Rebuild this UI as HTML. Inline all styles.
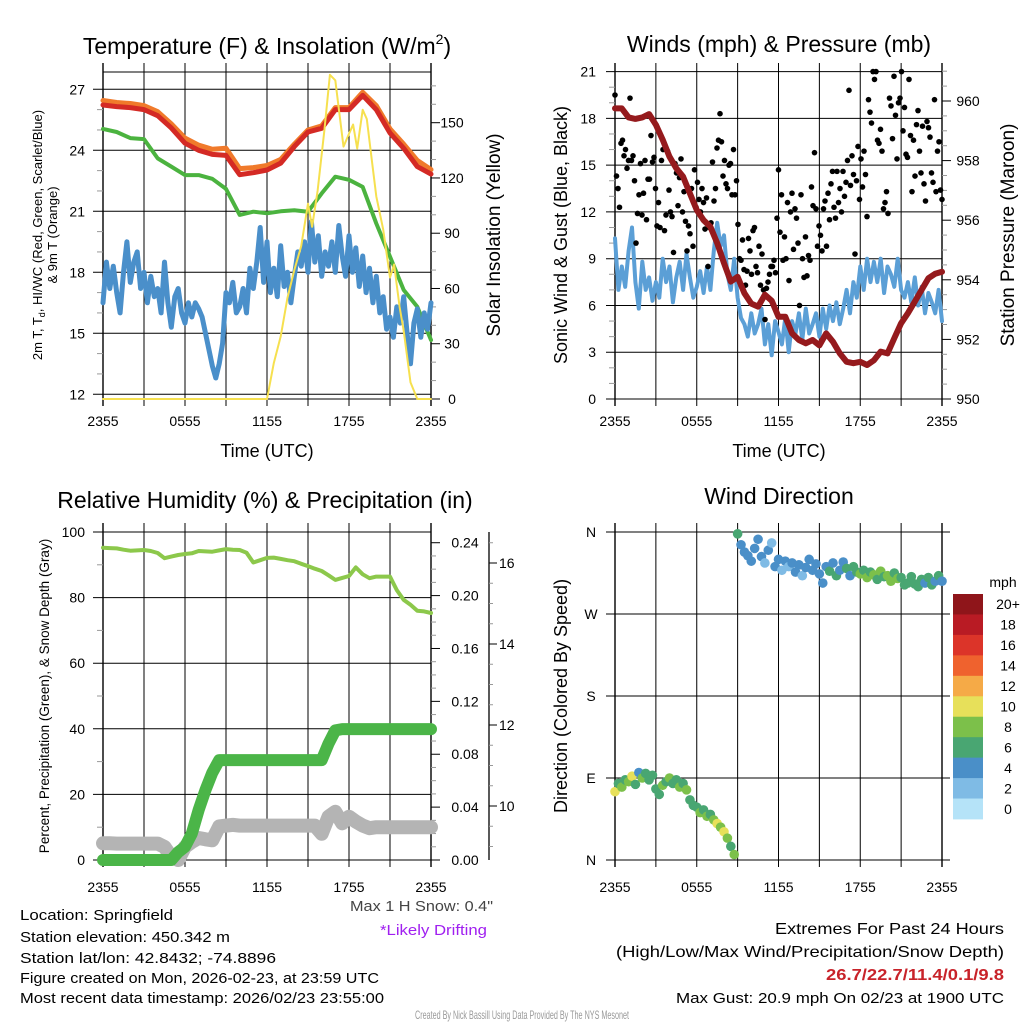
<!DOCTYPE html>
<html><head><meta charset="utf-8"><title>Station Meteogram</title>
<style>
html,body{margin:0;padding:0;background:#fff;}
svg{display:block;font-family:"Liberation Sans",Arial,sans-serif;}
</style></head>
<body>
<svg id="fig" xmlns="http://www.w3.org/2000/svg" width="1024" height="1024" viewBox="0 0 1024 1024">
<rect x="0" y="0" width="1024" height="1024" fill="#fff"/>
<g id="layer"></g>
</svg>
<script>
// ---------------- DATA ----------------
const timeLabels = ["2355","0555","1155","1755","2355"];
const tempRed = [26.23,26.15,26.1,26.0,25.7,25.1,24.35,24.0,23.8,23.75,22.8,22.9,23.03,23.37,24.18,24.9,25.08,26.0,26.0,26.7,26.0,24.85,24.1,23.2,22.83];
const tempOrange = [26.45,26.35,26.3,26.2,25.9,25.3,24.6,24.25,24.05,24.1,23.1,23.15,23.25,23.55,24.3,25.0,25.2,26.1,26.1,26.85,26.2,25.05,24.3,23.5,23.05];
const dewGreen = [25.05,24.9,24.6,24.55,23.6,23.2,22.78,22.78,22.6,22.1,20.82,20.98,20.9,21.0,21.05,20.98,21.88,22.7,22.55,22.2,20.4,18.77,17.13,16.3,14.67];
const windChill = [16.5,18.5,17.2,18.3,17.0,16.0,18.0,19.5,17.5,18.5,19.0,17.2,18.0,16.5,17.8,16.8,17.2,16.0,18.5,16.5,15.3,16.8,17.2,16.0,15.5,16.5,15.8,16.5,16.2,15.8,15.0,14.2,13.4,12.8,13.5,14.5,17.0,16.5,17.5,16.0,16.3,17.2,16.0,18.2,17.2,18.5,20.2,17.5,19.5,17.0,18.2,16.8,19.3,17.3,18.0,16.5,17.8,19.0,18.3,19.5,18.0,20.5,18.5,19.8,17.8,19.0,18.3,19.5,18.0,20.3,18.8,17.8,19.8,18.0,19.2,17.3,18.8,17.0,18.2,16.5,17.8,16.0,16.8,15.2,15.8,14.8,16.3,15.5,16.8,15.0,13.5,15.5,16.2,14.8,16.0,15.2,16.5];
const solarHours = [0,12,12.5,13,13.5,14,14.5,15,15.3,15.7,16.2,16.6,17,17.3,17.6,18,18.3,18.6,19,19.3,19.7,20,20.5,21,21.3,21.7,22,22.5,23,24];
const solarValues = [0,0,19.5,34,55,70,83,106,93.5,113,146,176,173,155,137,144,149,136,157,152,128,110,92,66,73,50,37,9,0,0];
const sonicWind = [10.3,7.0,8.5,7.2,9.5,11.0,7.5,5.8,8.8,7.0,7.8,6.3,7.5,6.5,9.0,7.5,8.5,6.2,7.8,8.8,7.0,9.3,7.8,6.5,7.2,8.2,6.8,8.5,7.0,9.5,11.3,9.8,10.5,8.0,7.0,9.0,6.5,5.2,4.8,4.0,5.5,4.2,4.8,5.8,3.5,4.8,2.8,5.0,4.3,3.5,5.2,3.0,5.0,4.2,5.5,3.8,5.8,4.2,4.8,5.5,4.0,5.8,4.5,6.0,5.0,6.2,4.8,5.8,7.0,5.5,7.5,6.5,8.5,7.0,9.0,7.5,8.8,7.5,9.0,6.8,8.5,8.0,7.2,9.0,7.0,6.5,7.5,6.2,7.8,6.0,7.2,5.5,6.8,6.2,5.5,7.0,5.0];
const gusts = [19.5,14.3,13.5,12.3,16.4,16.6,15.6,16.0,14.8,15.3,19.3,15.3,15.6,14.0,10.0,11.9,13.1,15.1,11.8,13.2,15.3,11.5,14.1,14.1,16.9,15.2,15.5,
13.5,11.1,12.6,11.0,15.3,16.0,10.8,11.8,15.9,13.4,12.0,11.7,9.4,15.1,14.5,12.4,14.2,15.4,12.0,13.3,11.4,9.5,11.1,10.6,13.5,9.8,14.7,
12.3,13.9,12.8,12.0,13.5,12.6,10.9,12.9,8.5,11.0,11.3,15.2,12.7,13.5,16.1,16.6,18.3,16.5,14.3,15.3,13.8,13.5,15.0,15.1,13.1,16.0,13.1,
14.0,11.2,9.0,8.9,10.2,8.3,7.3,8.2,10.3,9.5,8.0,10.8,11.0,8.5,8.1,9.8,7.3,9.3,7.0,5.1,7.1,7.5,8.0,8.5,8.5,8.9,
8.1,11.6,14.7,10.7,13.1,8.9,10.4,9.0,12.6,7.6,12.0,13.2,9.6,12.2,11.6,10.0,6.0,13.1,9.0,7.8,10.4,7.9,9.2,8.9,13.6,12.4,15.8,
12.2,9.8,11.1,10.5,9.5,12.2,12.7,9.8,13.2,11.5,13.8,14.6,12.3,11.6,14.6,12.6,13.5,12.0,14.6,13.0,13.9,15.3,19.8,13.7,15.6,14.4,9.3,
14.0,16.2,12.8,15.4,13.6,15.9,14.4,11.7,19.2,18.4,17.7,21.0,20.5,21.0,16.6,16.4,17.3,15.9,12.2,12.6,13.3,11.9,19.3,18.8,16.7,20.7,18.2,15.4,
19.0,19.3,21.0,17.2,18.7,15.7,15.5,20.5,16.9,13.3,16.6,14.3,17.6,18.5,15.9,14.5,17.5,13.8,12.7,17.8,17.4,16.8,14.5,13.9,19.2,13.3,15.9,16.5,13.4,12.8];
const pressure = [959.75,959.75,959.45,959.4,959.45,959.56,959.2,958.7,958.13,957.74,957.46,956.9,956.34,956.0,955.78,955.23,954.56,953.94,954.1,953.55,953.2,953.1,953.5,953.3,952.76,952.76,952.2,951.98,951.87,951.98,951.8,952.2,951.92,951.53,951.25,951.2,951.25,951.14,951.3,951.59,951.53,952.04,952.54,952.88,953.27,953.66,954.05,954.2,954.27];
const rhValues = [95.2,95.1,95,94.6,94.3,94.4,94.5,94.2,93.6,92,92.5,93,93.3,93.5,94.2,94.1,94,94.4,94.8,94.6,94.5,93.7,90.7,91.4,92.1,92.2,91.8,91.4,91.1,90.3,89.6,88.8,88.1,86.8,85.4,86.0,86.6,89.2,87.1,85.9,86.4,86.4,86.4,82.3,79.3,77.8,76,75.8,75.3];
const precipValues = [0,0,0,0,0,0,0,0,0,0,0,0.006,0.01,0.02,0.038,0.053,0.066,0.0756,0.0756,0.0756,0.0756,0.0756,0.0756,0.0756,0.0756,0.0756,0.0756,0.0756,0.0756,0.0756,0.0756,0.0756,0.0756,0.088,0.098,0.099,0.099,0.099,0.099,0.099,0.099,0.099,0.099,0.099,0.099,0.099,0.099,0.099,0.099];
const snowValues = [5.1,5.1,5,5,5,5,5,5,5,4,1,0,4,5.5,6.7,6.3,6,10.2,10.5,10.7,10.5,10.5,10.5,10.5,10.5,10.5,10.5,10.5,10.5,10.5,10.5,10.5,8,13.2,14.7,11.2,13.2,11.7,10.5,9.7,10,10,10,10,10,10,10,10,10];
// Wind direction every 15 min (deg)
const windDir = [75,84,80,88,86,92,83,96,90,95,88,93,78,72,82,86,90,84,88,80,84,77,66,60,58,52,55,48,50,44,40,36,31,24,15,6,358,346,338,334,328,342,352,333,326,340,348,322,330,318,328,322,326,316,324,312,321,330,318,325,314,304,322,317,326,312,318,327,320,312,322,316,314,318,310,316,313,308,317,311,312,306,315,309,310,302,304,311,303,300,308,304,310,302,306,312,306];
const speedBins = ["0","2","4","6","8","10","12","14","16","18","20+"];
const speedColors = ["#b5e3f8","#7fbbe5","#4a8fc8","#49a672","#7cc04a","#e7e05a","#f5aa47","#ef622e","#dc3429","#b91b24","#8f151a"];

// ---------------- HELPERS ----------------
const NS="http://www.w3.org/2000/svg";
const layer=document.getElementById('layer');
function mk(tag,attrs,parent){const e=document.createElementNS(NS,tag);for(const k in attrs)e.setAttribute(k,attrs[k]);(parent||layer).appendChild(e);return e;}
function txt(s,x,y,size,anchor,parent,extra){const e=mk('text',Object.assign({x:x,y:y,'font-size':size,'text-anchor':anchor||'middle',fill:'#000'},extra||{}),parent);e.textContent=s;return e;}
function pathFrom(xs,ys){let d='';for(let i=0;i<xs.length;i++)d+=(i?'L':'M')+xs[i].toFixed(1)+' '+ys[i].toFixed(1);return d;}

function makePanel(name,x0,x1,y0,y1){
  const g=mk('g',{});
  
  
  return {g:g,x0:x0,x1:x1,y0:y0,y1:y1,xT:function(t){return x0+t/24*(x1-x0);}};
}
function vgrid(p,labelY){
  for(let i=0;i<=8;i++){
    const x=p.xT(i*3);
    const l=mk('line',{x1:x,x2:x,y1:p.y0-9,y2:p.y1+7,stroke:'#000','stroke-width':(i==0||i==8)?1.4:1},p.g);
    
    
  }
  for(let i=0;i<timeLabels.length;i++){
    const t=txt(timeLabels[i],p.xT(i*6),labelY,14,'middle',p.g);
    
    
  }
}
function hline(p,y,xa,xb,w){const l=mk('line',{x1:xa,x2:xb,y1:y,y2:y,stroke:'#000','stroke-width':w||1},p.g);return l;}
function tick(p,x,y,len,dirRight,col){mk('line',{x1:x,x2:x+(dirRight?len:-len),y1:y,y2:y,stroke:col||'#000','stroke-width':1},p.g);}
function series(p,xs,ys,color,w,name){
  const e=mk('path',{d:pathFrom(xs,ys),fill:'none',stroke:color,'stroke-width':w,'stroke-linejoin':'round','stroke-linecap':'round'},p.g);
  
  
  return e;
}
function colorFor(v){let i=Math.floor(v/2);if(i<0)i=0;if(i>10)i=10;return speedColors[i];}

// ---------------- PANEL 1: Temperature ----------------
(function(){
  const p=makePanel('temperature-panel',103,431,72,399);
  const yL=v=>89.3+(27-v)*20.33, yR=v=>399-v*1.842;
  const ti=txt('',267,54,23,'middle',p.g);
  ti.innerHTML='Temperature (F) &amp; Insolation (W/m<tspan font-size="14" dy="-10">2</tspan><tspan dy="10">)</tspan>';
  
  
  vgrid(p,426);
  hline(p,72,103,431);hline(p,399,103,431,1);
  [27,24,21,18,15,12].forEach(v=>{hline(p,yL(v),93,431);const t=txt(String(v),85,yL(v)+5,14,'end',p.g);});
  for(let v=12;v<=27;v++) if(v%3) tick(p,103,yL(v),6,false,'#999');
  for(let v=0;v<=170;v+=10){tick(p,431,yR(v),v%30?5:9,true,v%30?'#999':'#000');if(v%30==0){const t=txt(String(v),452,yR(v)+5,14,'middle',p.g);}}
  const hrs=tempRed.map((_,i)=>i);
  series(p,hrs.map(p.xT),tempOrange.map(yL),'#f07a2b',5,'temp-9m-orange-line');
  series(p,hrs.map(p.xT),tempRed.map(yL),'#d42a25',5,'temp-2m-red-line');
  series(p,hrs.map(p.xT),dewGreen.map(yL),'#4bb33f',4,'dewpoint-green-line');
  series(p,windChill.map((_,i)=>p.xT(i/4)),windChill.map(yL),'#4a8fca',5,'windchill-blue-line');
  series(p,solarHours.map(p.xT),solarValues.map(yR),'#f6e04f',2,'solar-yellow-line');
  const a=txt('Time (UTC)',267,457,18,'middle',p.g);
  const r=txt('Solar Insolation (Yellow)',0,0,19,'middle',p.g,{transform:'translate(500,235) rotate(-90)'});
  const l1=txt('',0,0,13,'middle',p.g,{transform:'translate(42,235) rotate(-90)'});
  l1.innerHTML='2m T, T<tspan font-size="9" dy="3">d</tspan><tspan dy="-3">, HI/WC (Red, Green, Scarlet/Blue)</tspan>';
  
  const l2=txt('& 9m T (Orange)',0,0,13,'middle',p.g,{transform:'translate(57,235) rotate(-90)'});
})();

// ---------------- PANEL 2: Winds ----------------
(function(){
  const p=makePanel('winds-pressure-panel',615,942,72,399);
  const yW=v=>399-v*15.59, yP=v=>399-(v-950)*29.8;
  txt('Winds (mph) & Pressure (mb)',779,52,23,'middle',p.g);
  vgrid(p,426);
  for(let v=0;v<=21;v+=3){hline(p,yW(v),606,942);const t=txt(String(v),596,yW(v)+5,14,'end',p.g);}
  for(let v=1;v<21;v++) if(v%3) tick(p,615,yW(v),6,false,'#999');
  for(let v=950;v<=961;v+=0.5){const maj=(v%2==0);tick(p,942,yP(v),maj?9:5,true,maj?'#000':'#999');if(maj){const t=txt(String(v),968,yP(v)+5,14,'middle',p.g);}}
  series(p,sonicWind.map((_,i)=>p.xT(i/4)),sonicWind.map(yW),'#5b9fd6',4,'sonic-wind-blue-line');
  const n=gusts.length;
  for(let i=0;i<n;i++){
    const c=mk('circle',{cx:p.xT(i*24/(n-1)),cy:yW(gusts[i]),r:2.8,fill:'#000'},p.g);
    
    
  }
  series(p,pressure.map((_,i)=>p.xT(i/2)),pressure.map(yP),'#951a1d',6,'pressure-maroon-line');
  const a=txt('Time (UTC)',779,457,18,'middle',p.g);
  const l=txt('Sonic Wind & Gust (Blue, Black)',0,0,18,'middle',p.g,{transform:'translate(567,235) rotate(-90)'});
  const r=txt('Station Pressure (Maroon)',0,0,19,'middle',p.g,{transform:'translate(1014,235) rotate(-90)'});
})();

// ---------------- PANEL 3: RH & Precip ----------------
(function(){
  const p=makePanel('humidity-precip-panel',103,431,532,860);
  const yH=v=>860-v*3.28, yPr=v=>860-v*1322;
  txt('Relative Humidity (%) & Precipitation (in)',265,508,23,'middle',p.g);
  vgrid(p,892);
  for(let v=0;v<=100;v+=20){hline(p,yH(v),93,431);const t=txt(String(v),85,yH(v)+5,14,'end',p.g);}
  for(let v=10;v<100;v+=20) tick(p,103,yH(v),6,false,'#999');
  for(let k=0;k<=24;k++){const v=k/100;const maj=(k%4==0);tick(p,431,yPr(v),maj?9:5,true,maj?'#000':'#999');if(maj){const t=txt(v.toFixed(2),465,yPr(v)+5,14,'middle',p.g);}}
  const ax=mk('line',{x1:489,x2:489,y1:532,y2:860,stroke:'#000','stroke-width':1.3},p.g);
  const ySn=v=>806-(v-10)*40.5;
  for(let v=9;v<=16.5;v+=0.5){const maj=(v%2==0);tick(p,489,ySn(v),maj?8:4,true,maj?'#000':'#999');if(maj){const t=txt(String(v),499,ySn(v)+5,14,'start',p.g);}}
  const hs=rhValues.map((_,i)=>p.xT(i/2));
  series(p,hs,snowValues.map(yH),'#b4b4b4',14,'snow-depth-gray-line');
  series(p,hs,precipValues.map(yPr),'#4bb548',12,'precip-green-line');
  series(p,hs,rhValues.map(yH),'#8cc84b',4,'rh-lightgreen-line');
  const l=txt('Percent, Precipitation (Green), & Snow Depth (Gray)',0,0,13.5,'middle',p.g,{transform:'translate(49,696) rotate(-90)'});
})();

// ---------------- PANEL 4: Wind direction ----------------
(function(){
  const p=makePanel('wind-direction-panel',615,942,532,860);
  const yD=d=>860-d/360*328;
  txt('Wind Direction',779,504,23,'middle',p.g);
  vgrid(p,892);
  const dl=['N','E','S','W','N'];
  for(let i=0;i<5;i++){hline(p,yD(i*90),606,950);const t=txt(dl[i],591,yD(i*90)+5,14,'middle',p.g);}
  for(let i=0;i<windDir.length;i++){
    const c=mk('circle',{cx:p.xT(i/4),cy:yD(windDir[i]),r:4.8,fill:colorFor(sonicWind[i])},p.g);
    
    
  }
  const l=txt('Direction (Colored By Speed)',0,0,18,'middle',p.g,{transform:'translate(567,696) rotate(-90)'});
  const lg=mk('g',{});
  txt('mph',1003,587,14,'middle',lg);
  const bh=(819-594)/11;
  for(let k=0;k<11;k++){
    const idx=10-k;
    const r=mk('rect',{x:953,y:594+k*bh,width:30,height:bh+0.4,fill:speedColors[idx]},lg);
    
    
    const t=txt(speedBins[idx],1008,594+k*bh+bh/2+5,14,'middle',lg);
    
    
  }
})();

// ---------------- FOOTER TEXT ----------------
(function(){
  const g=mk('g',{});
  const lines=['Location: Springfield','Station elevation: 450.342 m','Station lat/lon: 42.8432; -74.8896','Figure created on Mon, 2026-02-23, at 23:59 UTC','Most recent data timestamp: 2026/02/23 23:55:00'];
  const ys=[920,942,963,983,1003];
  const ws=[153,210,256,359,364];
  lines.forEach((s,i)=>txt(s,20,ys[i],15,'start',g,{textLength:ws[i],lengthAdjust:'spacingAndGlyphs'}));
  const s1=txt('Max 1 H Snow: 0.4"',493,911,15,'end',null,{fill:'#444',textLength:143,lengthAdjust:'spacingAndGlyphs'});
  const s2=txt('*Likely Drifting',487,935,15,'end',null,{fill:'#a020f0',textLength:107,lengthAdjust:'spacingAndGlyphs'});
  const g2=mk('g',{});
  txt('Extremes For Past 24 Hours',1004,934,16,'end',g2,{textLength:229,lengthAdjust:'spacingAndGlyphs'});
  txt('(High/Low/Max Wind/Precipitation/Snow Depth)',1004,957,16,'end',g2,{textLength:388,lengthAdjust:'spacingAndGlyphs'});
  txt('26.7/22.7/11.4/0.1/9.8',1004,980,16,'end',g2,{fill:'#c8232a','font-weight':'bold',textLength:178,lengthAdjust:'spacingAndGlyphs'});
  txt('Max Gust: 20.9 mph On 02/23 at 1900 UTC',1004,1003,15,'end',g2,{textLength:328,lengthAdjust:'spacingAndGlyphs'});
  const f=txt('Created By Nick Bassill Using Data Provided By The NYS Mesonet',522,1019,12,'middle',null,{fill:'#999',textLength:214,lengthAdjust:'spacingAndGlyphs'});
})();
</script>
</body></html>
